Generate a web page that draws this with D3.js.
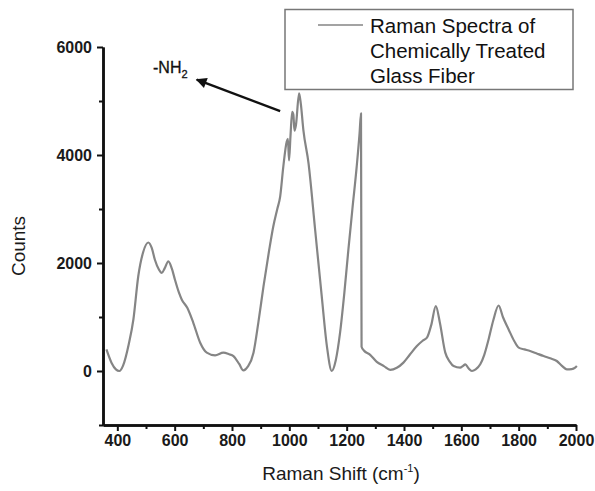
<!DOCTYPE html>
<html>
<head>
<meta charset="utf-8">
<script src="https://cdn.jsdelivr.net/npm/d3@7"></script>
<style>
  body { margin: 0; background: #fff; }
  svg text { font-family: "Liberation Sans", Arial, sans-serif; }
</style>
</head>
<body>
<div id="chart"></div>
<script>
// Raman shift (cm-1) and counts
const shift = [362, 380, 395, 407, 420, 440, 456, 473, 490, 508, 520, 531, 545, 555, 565, 578, 590, 601, 615, 625,
  644, 665, 689, 712, 741, 770, 790, 805, 825, 840, 855, 875, 892, 910, 930, 944, 958, 968, 979, 991,
  995, 999, 1004, 1010, 1014, 1018, 1023, 1034, 1040, 1049, 1067, 1090, 1113, 1131, 1148, 1162, 1177, 1192, 1206, 1220,
  1235, 1245, 1250, 1252, 1260, 1282, 1305, 1330, 1352, 1375, 1398, 1420, 1445, 1465, 1480, 1495, 1511, 1525, 1544, 1560,
  1573, 1596, 1605, 1614, 1625, 1637, 1650, 1666, 1680, 1695, 1712, 1730, 1745, 1765, 1785, 1800, 1820, 1840, 1865, 1887,
  1910, 1933, 1950, 1968, 1985, 1997, 2003];
const counts = [400, 150, 30, 0, 100, 500, 954, 1755, 2200, 2380, 2280, 2060, 1880, 1815, 1900, 2030, 1900, 1690, 1450, 1320,
  1170, 893, 524, 340, 290, 340, 310, 277, 130, 10, 80, 340, 900, 1570, 2250, 2677, 3000, 3230, 3785, 4250,
  4300, 3900, 4350, 4800, 4750, 4450, 4550, 5140, 4950, 4462, 3847, 2616, 1385, 461, 0, 200, 709, 1450, 2247, 3000,
  3785, 4400, 4770, 450, 380, 300, 170, 90, 20, 60, 155, 300, 461, 560, 616, 850, 1200, 900, 340, 170,
  92, 62, 90, 124, 50, 0, 30, 124, 300, 585, 950, 1213, 1000, 770, 550, 432, 400, 370, 320, 277,
  235, 185, 100, 31, 35, 62, 92];

const xTicks = [400, 600, 800, 1000, 1200, 1400, 1600, 1800, 2000];
const xMinor = [500, 700, 900, 1100, 1300, 1500, 1700, 1900];
const yTicks = [0, 2000, 4000, 6000];
const yMinor = [-1000, 1000, 3000, 5000];
const legendLines = ["Raman Spectra of", "Chemically Treated", "Glass Fiber"];
const arrowFrom = [968, 4813];
const arrowTo = [677, 5398];

const width = 595, height = 491;
const margin = { left: 103, right: 19, top: 47, bottom: 66 };

const svg = d3.select("#chart").append("svg")
  .attr("width", width).attr("height", height);

const x = d3.scaleLinear().domain([350, 2000]).range([margin.left, width - margin.right]);
const y = d3.scaleLinear().domain([-1000, 6000]).range([height - margin.bottom, margin.top]);

const axisColor = "#1a1a1a";
const fmt = d3.format("d");

function styleAxis(g) {
  g.selectAll(".domain").attr("stroke", "#111").attr("stroke-width", 2.5);
  g.selectAll(".tick line").attr("stroke", "#111").attr("stroke-width", 2);
  g.selectAll(".tick text")
    .attr("fill", axisColor)
    .attr("font-size", 16).attr("font-weight", "bold")
    .attr("font-family", "Liberation Sans, Arial, sans-serif");
}

// x axis: minor ticks, then major ticks with labels
const gx = svg.append("g").attr("transform", `translate(0,${y(-1000)})`);
gx.append("g").call(d3.axisBottom(x).tickValues(xMinor).tickSize(4).tickSizeOuter(0).tickFormat(""));
gx.append("g").call(d3.axisBottom(x).tickValues(xTicks).tickSize(6).tickSizeOuter(0).tickPadding(4).tickFormat(fmt));
styleAxis(gx);

// y axis
const gy = svg.append("g").attr("transform", `translate(${x(350)},0)`);
gy.append("g").call(d3.axisLeft(y).tickValues(yMinor).tickSize(4).tickSizeOuter(0).tickFormat(""));
gy.append("g").call(d3.axisLeft(y).tickValues(yTicks).tickSize(6).tickSizeOuter(0).tickPadding(5).tickFormat(fmt));
styleAxis(gy);

// axis titles
const xt = svg.append("text")
  .attr("x", 341).attr("y", 480)
  .attr("text-anchor", "middle").attr("font-size", 19).attr("fill", axisColor);
xt.append("tspan").text("Raman Shift (cm");
xt.append("tspan").attr("dy", -8).attr("font-size", 11).text("-1");
xt.append("tspan").attr("dy", 8).text(")");

svg.append("text")
  .attr("transform", `translate(25,246) rotate(-90)`)
  .attr("text-anchor", "middle").attr("font-size", 19).attr("fill", axisColor)
  .text("Counts");

// spectrum
const pts = shift.map((s, i) => [s, counts[i]]);
svg.append("path")
  .datum(pts)
  .attr("fill", "none")
  .attr("stroke", "#858585")
  .attr("stroke-width", 2.2)
  .attr("stroke-linejoin", "round")
  .attr("d", d3.line().x(d => x(d[0])).y(d => y(d[1])).curve(d3.curveMonotoneX));

// annotation arrow
svg.append("defs").append("marker")
  .attr("id", "head").attr("viewBox", "0 0 10 10")
  .attr("refX", 9).attr("refY", 5)
  .attr("markerWidth", 5).attr("markerHeight", 4.5)
  .attr("orient", "auto")
  .append("path").attr("d", "M0,0L10,5L0,10Z").attr("fill", "#111");

svg.append("line")
  .attr("x1", x(arrowFrom[0])).attr("y1", y(arrowFrom[1]))
  .attr("x2", x(arrowTo[0])).attr("y2", y(arrowTo[1]))
  .attr("stroke", "#111").attr("stroke-width", 2.4)
  .attr("marker-end", "url(#head)");

const nh = svg.append("text")
  .attr("x", 153).attr("y", 73)
  .attr("font-size", 16).attr("fill", "#111")
  .attr("stroke", "#111").attr("stroke-width", 0.3)
  .text("-NH");
nh.append("tspan").attr("dy", 5).attr("font-size", 11).text("2");

// legend
const legend = svg.append("g");
legend.append("rect")
  .attr("x", 285).attr("y", 9.5).attr("width", 288).attr("height", 80)
  .attr("fill", "#fff").attr("stroke", "#777").attr("stroke-width", 1.5);
legend.append("line")
  .attr("x1", 318).attr("x2", 363).attr("y1", 25).attr("y2", 25)
  .attr("stroke", "#858585").attr("stroke-width", 1.5);
legend.selectAll(".lt").data(legendLines).join("text").attr("class", "lt")
  .attr("x", 370).attr("y", (d, i) => 33 + i * 25)
  .attr("font-size", 20.5).attr("fill", "#111")
  .text(d => d);
</script>
</body>
</html>
